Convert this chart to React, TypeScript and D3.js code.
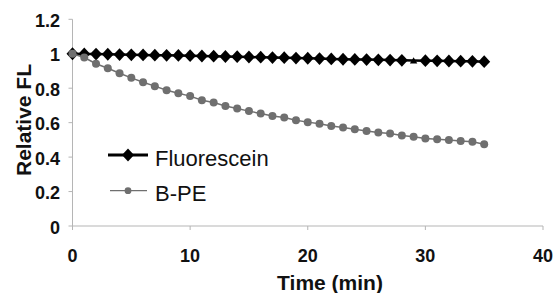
import React from "react";
import * as d3 from "d3";

const times: number[] = d3.range(0, 36);
const fluorescein: number[] = [
  1.0, 0.999, 0.998, 0.997, 0.995, 0.994, 0.993, 0.992, 0.991, 0.99, 0.989, 0.987,
  0.986, 0.984, 0.983, 0.981, 0.98, 0.978, 0.977, 0.975, 0.974, 0.972, 0.97, 0.968,
  0.967, 0.966, 0.965, 0.963, 0.962, 0.961, 0.96, 0.959, 0.958, 0.957, 0.956, 0.954,
];
const bpe: number[] = [
  1.0, 0.978, 0.942, 0.916, 0.887, 0.86, 0.835, 0.812, 0.788, 0.771, 0.754, 0.73,
  0.717, 0.697, 0.682, 0.667, 0.653, 0.639, 0.63, 0.614, 0.603, 0.593, 0.581, 0.572,
  0.562, 0.552, 0.543, 0.537, 0.525, 0.518, 0.508, 0.504, 0.499, 0.493, 0.489, 0.475,
];
// index of the fluorescein point drawn with a small triangle marker in the source
const triangleIndices: number[] = [29];
const xTicks: number[] = [0, 10, 20, 30, 40];
const yTicks: number[] = [0, 0.2, 0.4, 0.6, 0.8, 1, 1.2];
const xTitle = "Time (min)";
const yTitle = "Relative FL";
const seriesNames = ["Fluorescein", "B-PE"];

const FONT = "'Liberation Sans', Arial, Helvetica, sans-serif";
const AXIS = "#b5b5b5";
const GRAY = "#6f6f6f";

export default function App() {
  const x = d3.scaleLinear().domain([0, 40]).range([72.5, 543]);
  const y = d3.scaleLinear().domain([0, 1.2]).range([226, 19.3]);

  const line = d3
    .line<number>()
    .x((_, i) => x(times[i]))
    .y((d) => y(d));

  const diamond = (cx: number, cy: number) =>
    `M${cx},${cy - 6.4}L${cx + 6},${cy}L${cx},${cy + 6.4}L${cx - 6},${cy}Z`;
  const tri = d3.symbol().type(d3.symbolTriangle).size(24);

  return (
    <svg
      width={555}
      height={293}
      style={{ position: "absolute", left: 0, top: 0, background: "#fff" }}
      fontFamily={FONT}
    >
      <rect width={555} height={293} fill="#fff" />
      {/* axes */}
      <line x1={x(0)} x2={x(0)} y1={y(1.2)} y2={y(0)} stroke={AXIS} strokeWidth={1} />
      <line x1={x(0)} x2={x(40)} y1={y(0)} y2={y(0)} stroke={AXIS} strokeWidth={1} />
      {yTicks.map((t) => (
        <g key={"y" + t}>
          <line x1={x(0) - 4} x2={x(0)} y1={y(t)} y2={y(t)} stroke={AXIS} />
          <text
            x={60}
            y={y(t) + 7.5}
            textAnchor="end"
            fontSize={18}
            fontWeight="bold"
            fill="#111"
          >
            {String(t)}
          </text>
        </g>
      ))}
      {xTicks.map((t) => (
        <g key={"x" + t}>
          <line x1={x(t)} x2={x(t)} y1={y(0)} y2={y(0) + 4} stroke={AXIS} />
          <text
            x={x(t)}
            y={262}
            textAnchor="middle"
            fontSize={18}
            fontWeight="bold"
            fill="#111"
          >
            {String(t)}
          </text>
        </g>
      ))}
      <text x={330} y={290} textAnchor="middle" fontSize={21} fontWeight="bold" fill="#111">
        {xTitle}
      </text>
      <text
        transform="translate(31,120) rotate(-90)"
        textAnchor="middle"
        fontSize={21}
        fontWeight="bold"
        fill="#111"
      >
        {yTitle}
      </text>

      {/* Fluorescein */}
      <path d={line(fluorescein) || ""} fill="none" stroke="#000" strokeWidth={2.5} />
      {fluorescein.map((v, i) =>
        triangleIndices.includes(i) ? (
          <path
            key={"f" + i}
            d={tri() || ""}
            transform={`translate(${x(times[i])},${y(v) + 1})`}
            fill="#000"
          />
        ) : (
          <path key={"f" + i} d={diamond(x(times[i]), y(v))} fill="#000" />
        )
      )}

      {/* B-PE */}
      <path d={line(bpe) || ""} fill="none" stroke={GRAY} strokeWidth={1.5} />
      {bpe.map((v, i) => (
        <circle key={"b" + i} cx={x(times[i])} cy={y(v)} r={4} fill={GRAY} />
      ))}

      {/* legend */}
      <line x1={108} x2={148} y1={155} y2={155} stroke="#000" strokeWidth={3} />
      <path d={diamond(128, 155)} fill="#000" />
      <text x={155} y={166} fontSize={22} fill="#111">
        {seriesNames[0]}
      </text>
      <line x1={110} x2={147} y1={190.7} y2={190.7} stroke={GRAY} strokeWidth={1.2} />
      <circle cx={128} cy={190.7} r={3.4} fill={GRAY} />
      <text x={155} y={201} fontSize={22} fill="#111">
        {seriesNames[1]}
      </text>
    </svg>
  );
}
